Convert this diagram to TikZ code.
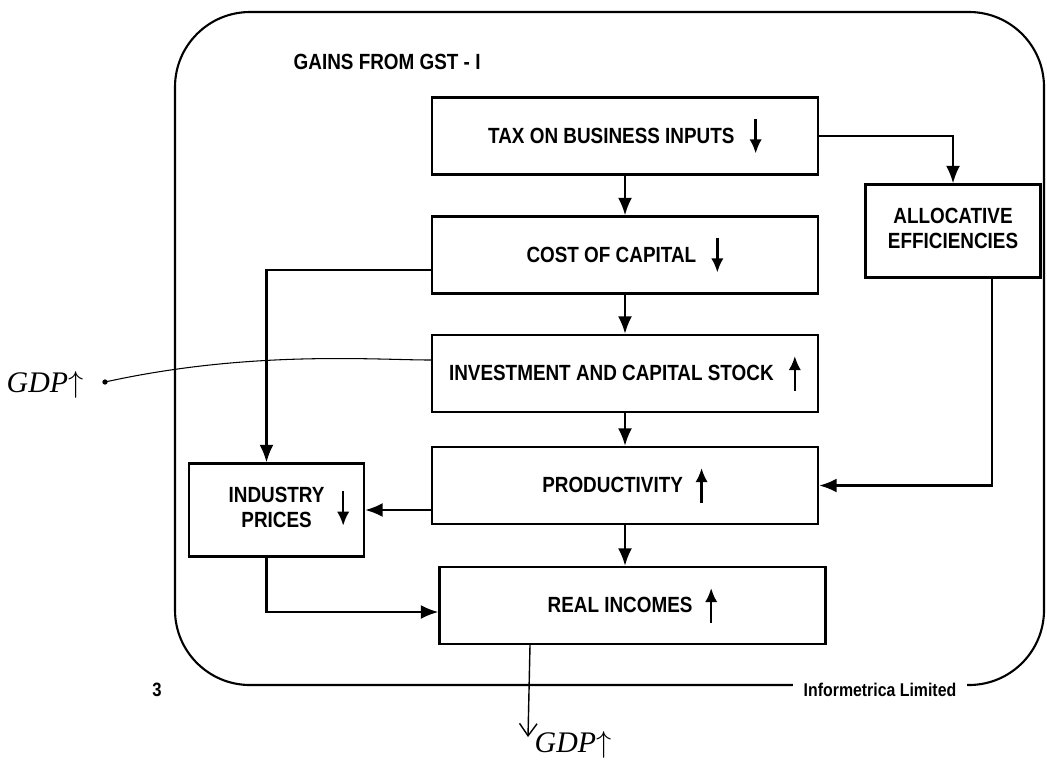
\documentclass[tikz,border=0pt]{standalone}
\usepackage{fontspec}
\setmainfont{Liberation Sans}
\newfontfamily\boxfont{Liberation Sans}[FakeStretch=0.86]
\newfontfamily\handfont{Liberation Serif}
\usetikzlibrary{arrows.meta}
\newcommand{\uparr}{\tikz[baseline=-4pt]\draw[line width=1.4pt,-{Latex[length=8pt,width=7pt]}] (0,-0.35)--(0,0.35);}
\newcommand{\dnarr}{\tikz[baseline=-4pt]\draw[line width=1.4pt,-{Latex[length=8pt,width=7pt]}] (0,0.35)--(0,-0.35);}
\begin{document}
\begin{tikzpicture}[
    box/.style={draw, line width=1.3pt, minimum width=7.72cm, minimum height=1.54cm, font=\boxfont\bfseries\fontsize{12.5}{14}\selectfont, align=center},
    sidebox/.style={box, minimum width=3.5cm, minimum height=1.86cm},
    arr/.style={line width=1.3pt, -{Latex[length=10pt,width=8pt]}},
    hand/.style={font=\handfont\itshape\fontsize{17}{17}\selectfont}]
        \useasboundingbox (0,0) rectangle (20.94,-15.46);
        \draw[line width=1.2pt, rounded corners=1.5cm] (3.5,-0.24) rectangle (20.88,-13.7);
        \node[font=\boxfont\bfseries\fontsize{12.5}{14}\selectfont, anchor=west] (title) at (5.75,-1.24) {GAINS FROM GST - I};
        \node[fill=white, font=\boxfont\bfseries\fontsize{10.5}{12}\selectfont, inner xsep=6pt] (firm) at (17.6,-13.8) {Informetrica Limited};
        \node[font=\boxfont\bfseries\fontsize{11}{12}\selectfont] (page) at (3.14,-13.8) {3};
        \node[box] (tax) at (12.5,-2.72) {TAX ON BUSINESS INPUTS\hspace{0.3cm}\dnarr};
        \node[box] (cost) at (12.5,-5.1) {COST OF CAPITAL\hspace{0.3cm}\dnarr};
        \node[box] (invest) at (12.5,-7.47) {INVESTMENT AND CAPITAL STOCK\hspace{0.3cm}\uparr};
        \node[box] (prod) at (12.5,-9.71) {PRODUCTIVITY\hspace{0.25cm}\uparr};
        \node[box] (real) at (12.65,-12.11) {REAL INCOMES\hspace{0.25cm}\uparr};
        \node[sidebox] (ind) at (5.53,-10.2) {\hspace{0.5cm}\begin{tabular}{@{}c@{}}INDUSTRY\\PRICES\end{tabular}\hspace{0.25cm}\dnarr};
        \node[sidebox] (alloc) at (19.06,-4.62) {\begin{tabular}{@{}c@{}}ALLOCATIVE\\EFFICIENCIES\end{tabular}};
        \draw[arr] (tax) -- (cost);
        \draw[arr] (cost) -- (invest);
        \draw[arr] (invest) -- (prod);
        \draw[arr] (prod.south) -- (prod.south |- real.north);
        \draw[arr] (tax.east) -| (alloc.north);
        \draw[arr] ([yshift=-0.3cm]cost.west) -| ([xshift=-0.2cm]ind.north);
        \draw[arr] ([xshift=0.78cm]alloc.south) |- (prod.east);
        \draw[arr] (prod.west |- ind.east) -- (ind.east);
        \draw[arr] ([xshift=-0.2cm]ind.south) |- ([yshift=-0.13cm]real.west);
        \coordinate (gdpout) at (10.56,-14.74);
        \coordinate (gdpdot) at (2.1,-7.64);
        \draw[line width=0.8pt, -{Straight Barb[length=7pt,width=10pt]}] ([xshift=-2.05cm]real.south) -- (gdpout);
        \node[hand] (gdp2) at (11.46,-14.9) {GDP$\uparrow$};
        \draw[line width=0.6pt] (gdpdot) .. controls (5,-7.0) and (7.5,-7.2) .. ([yshift=0.27cm]invest.west);
        \fill (gdpdot) circle (1.5pt);
        \node[hand] (gdp1) at (0.9,-7.7) {GDP$\uparrow$};
\end{tikzpicture}
\end{document}
